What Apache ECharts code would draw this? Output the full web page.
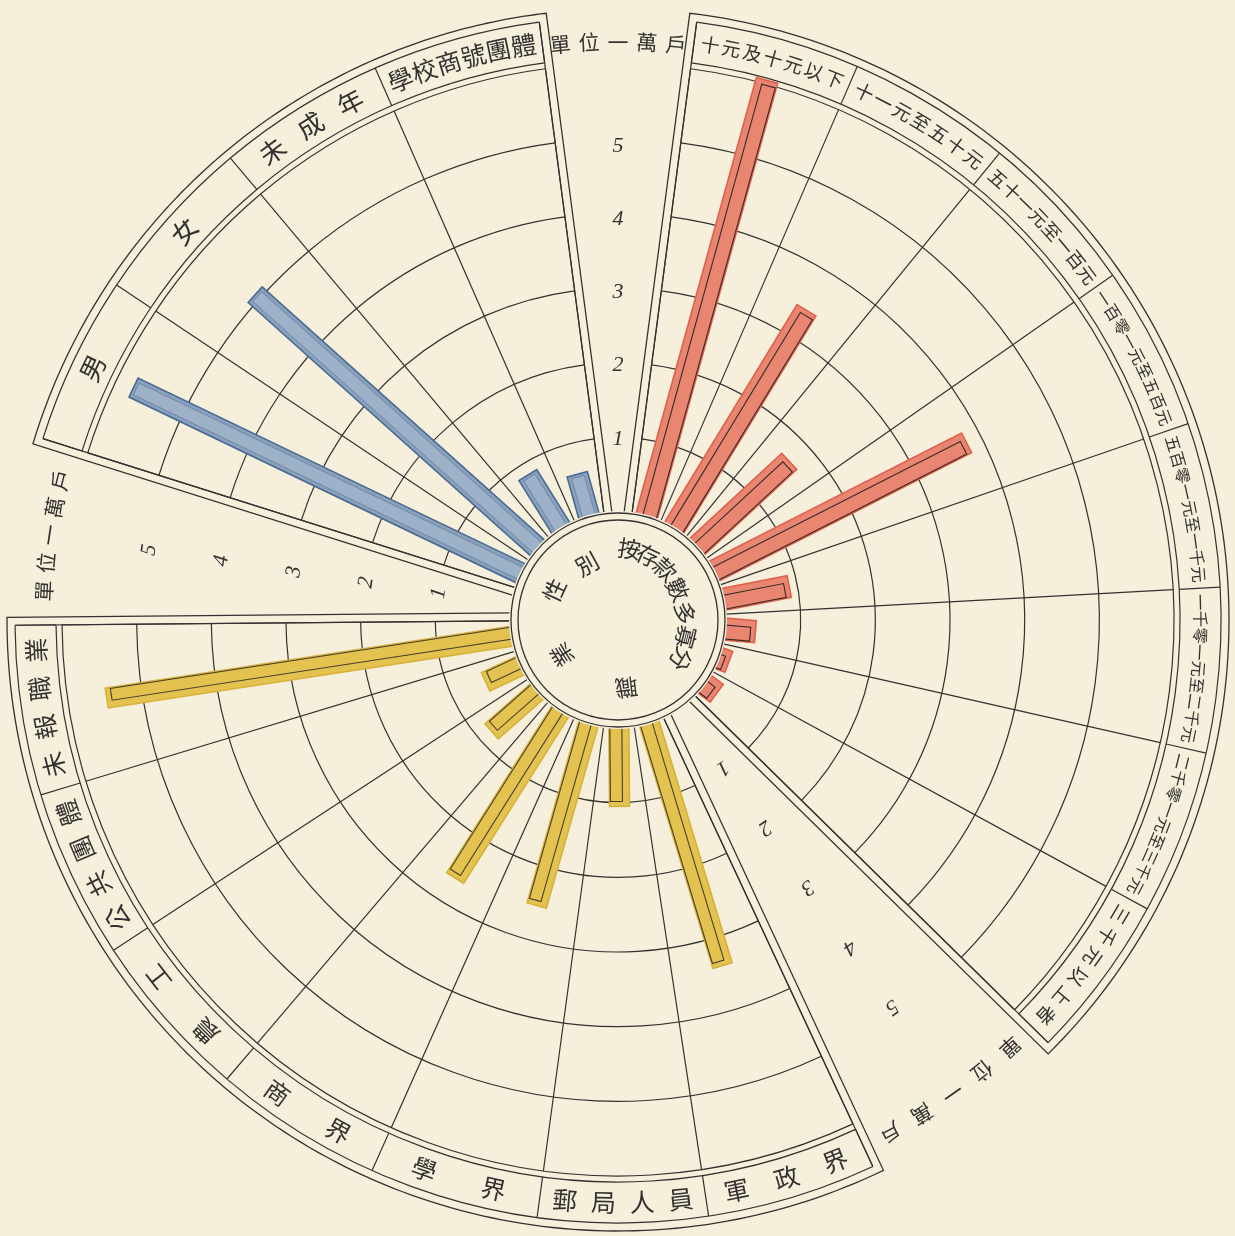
<!DOCTYPE html>
<html>
<head>
<meta charset="utf-8">
<script src="https://cdn.jsdelivr.net/npm/echarts@6/dist/echarts.min.js"></script>
<style>
html,body{margin:0;padding:0;background:#f5efdc;}
#chart{width:1235px;height:1236px;}
</style>
</head>
<body>
<div id="chart"></div>
<script>
// ---------------- DATA (unit: 10,000 households) ----------------
const unitLabel = '單位一萬戶';
const scaleTicks = [1, 2, 3, 4, 5];
const centerTitle = ['按', '存', '款', '數', '多', '寡', '分', '職', '業', '性', '別'];

// blue sector: depositor type (clockwise order)
const blueCategories = ['男', '女', '未成年', '學校商號團體'];
const blueValues = [5.75, 5.08, 0.84, 0.58];

// red sector: size of deposit (clockwise order)
const redCategories = ['十元及十元以下', '十一元至五十元', '五十一元至一百元', '一百零一元至五百元',
  '五百零一元至一千元', '一千零一元至二千元', '二千零一元至三千元', '三千元以上者'];
const redValues = [6.05, 3.41, 1.68, 3.79, 0.89, 0.40, 0.14, 0.20];

// yellow sector: occupation (clockwise order)
const yellowCategories = ['軍政界', '郵局人員', '學界', '商界', '農工', '公共團體', '未報職業'];
const yellowValues = [3.39, 1.05, 2.53, 2.64, 0.81, 0.51, 5.48];

// ---------------- LAYOUT / STYLE ----------------
const PAPER = '#f5efdc';
const INK = '#343230';
const FONT = '"Noto Sans CJK TC", "Noto Sans CJK SC", sans-serif';
const C = [618, 620];
const R0 = 108, R1 = 556;
const BAND = [562, 603];
const FRAME_R = 611, FRAME_GAP = 8;
const DISC = [100, 107];

const sectors = [
  { cats: blueCategories, vals: blueValues, start: 162.5, end: 97.5, font: 26, maxSp: 46,
    bar: { fill: '#88a1bc', stroke: '#4b6b92', width: 21, outline: null } },
  { cats: redCategories, vals: redValues, start: 82.5, end: -44.5, font: 19, maxSp: 30,
    bar: { fill: '#e98672', stroke: '#e0604c', width: 22, outline: '#3a2a26' } },
  { cats: yellowCategories, vals: yellowValues, start: 295, end: 180.5, font: 25, maxSp: 72,
    bar: { fill: '#e3c24f', stroke: '#d7b13a', width: 20, outline: '#4a4030' } }
];
const gaps = [
  { angle: 90, unitR: 6.3, sp: 29 },
  { angle: 171.5, unitR: 6.25, sp: 28 },
  { angle: -54.75, unitR: 6.32, sp: 37 }
];
// labels whose centre lies in this angular range are written upright (flipped)
const FLIP_RANGE = [225, 315];

function barRenderer(st) {
  return function (params, api) {
    const v = api.value(0), idx = api.value(1);
    const p0 = api.coord([0, idx]);
    const p1 = api.coord([v, idx]);
    let ux = p1[0] - p0[0], uy = p1[1] - p0[1];
    const L = Math.hypot(ux, uy) || 1; ux /= L; uy /= L;
    const nx = -uy, ny = ux;
    const rect = (hw, sn, s0, s1) => {
      const a = [p0[0] - ux * s0, p0[1] - uy * s0];
      const b = [p1[0] + ux * s1, p1[1] + uy * s1];
      return [
        [a[0] + nx * (hw + sn), a[1] + ny * (hw + sn)],
        [b[0] + nx * (hw + sn), b[1] + ny * (hw + sn)],
        [b[0] - nx * (hw - sn), b[1] - ny * (hw - sn)],
        [a[0] - nx * (hw - sn), a[1] - ny * (hw - sn)]
      ];
    };
    const hw = st.width / 2;
    const children = [{
      type: 'polygon', shape: { points: rect(hw, 0, 14, 0) },
      style: { fill: st.fill, stroke: st.stroke, lineWidth: 1.6 }
    }];
    if (st.outline) {
      children.push({
        type: 'polygon', shape: { points: rect(hw - 4, 3, 14, -5) },
        style: { fill: 'none', stroke: st.outline, lineWidth: 1.1 }
      });
    } else {
      children.push({
        type: 'polygon', shape: { points: rect(hw - 4, 0, 14, -3) },
        style: { fill: 'rgba(255,255,255,0.18)', stroke: 'rgba(60,85,120,0.5)', lineWidth: 0.8 }
      });
    }
    return { type: 'group', children };
  };
}

function arcText(cx, cy, r, th, text, sp, fs, flip) {
  const chars = Array.from(text), n = chars.length;
  return chars.map((ch, j) => {
    const k = flip ? (j - (n - 1) / 2) : ((n - 1) / 2 - j);
    const a = th + k * sp / r;
    return {
      type: 'text', x: cx + r * Math.cos(a), y: cy - r * Math.sin(a),
      rotation: flip ? a + Math.PI / 2 : a - Math.PI / 2,
      style: { text: ch, fontSize: fs, fontFamily: FONT, fill: INK, align: 'center', verticalAlign: 'middle' }
    };
  });
}

function labelRenderer(s) {
  return function (params, api) {
    const idx = api.value(1);
    const text = s.cats[params.dataIndex];
    const p = api.coord([0.5, idx]);
    const cs = params.coordSys;
    const dx = p[0] - cs.cx, dy = cs.cy - p[1];
    const r = Math.hypot(dx, dy), th = Math.atan2(dy, dx);
    let deg = th * 180 / Math.PI; if (deg < 0) deg += 360;
    const flip = deg > FLIP_RANGE[0] && deg < FLIP_RANGE[1];
    const cellAng = Math.abs(s.start - s.end) / s.cats.length * Math.PI / 180;
    const n = Array.from(text).length;
    const avail = r * cellAng * 0.93;
    const sp = Math.min(s.maxSp, avail / n);
    const fs = Math.min(s.font, sp * 0.98);
    return { type: 'group', children: arcText(cs.cx, cs.cy, r, th, text, sp, fs, flip) };
  };
}

function tickRenderer(params, api) {
  const t = api.value(0);
  const p = api.coord([t * 0.98, 0]);
  const cs = params.coordSys;
  const th = Math.atan2(cs.cy - p[1], p[0] - cs.cx);
  return {
    type: 'text', x: p[0], y: p[1], rotation: th - Math.PI / 2,
    style: { text: String(t), fontSize: 22, fontStyle: 'italic', fontFamily: '"Liberation Serif", serif',
      fill: INK, align: 'center', verticalAlign: 'middle' }
  };
}

function unitRenderer(sp) {
  return function (params, api) {
    const p = api.coord([api.value(0), 0]);
    const cs = params.coordSys;
    const dx = p[0] - cs.cx, dy = cs.cy - p[1];
    const r = Math.hypot(dx, dy), th = Math.atan2(dy, dx);
    return { type: 'group', children: arcText(cs.cx, cs.cy, r, th, unitLabel, sp, 21, false) };
  };
}

const polar = [], angleAxis = [], radiusAxis = [], series = [];
const line = { color: INK, width: 1.2 };

sectors.forEach((s) => {
  let pi = polar.length;
  polar.push({ center: C, radius: [R0, R1] });
  angleAxis.push({ polarIndex: pi, type: 'category', data: s.cats, startAngle: s.start, endAngle: s.end,
    clockwise: true, boundaryGap: true, axisLine: { show: false }, axisTick: { show: false },
    axisLabel: { show: false }, splitLine: { show: true, lineStyle: line } });
  radiusAxis.push({ polarIndex: pi, type: 'value', min: 0, max: 6, interval: 1,
    axisLine: { show: false }, axisTick: { show: false }, axisLabel: { show: false },
    splitLine: { show: true, lineStyle: line } });
  series.push({ type: 'custom', coordinateSystem: 'polar', polarIndex: pi, z: 5,
    encode: { radius: 0, angle: 1 },
    data: s.vals.map((v, i) => [v, i]), renderItem: barRenderer(s.bar) });
  pi = polar.length;
  polar.push({ center: C, radius: BAND });
  angleAxis.push({ polarIndex: pi, type: 'category', data: s.cats, startAngle: s.start, endAngle: s.end,
    clockwise: true, boundaryGap: true, axisLine: { show: false }, axisTick: { show: false },
    axisLabel: { show: false }, splitLine: { show: true, lineStyle: line } });
  radiusAxis.push({ polarIndex: pi, type: 'value', min: 0, max: 1, interval: 1,
    axisLine: { show: false }, axisTick: { show: false }, axisLabel: { show: false },
    splitLine: { show: true, lineStyle: line } });
  series.push({ type: 'custom', coordinateSystem: 'polar', polarIndex: pi, z: 6,
    encode: { radius: 0, angle: 1 },
    data: s.cats.map((c, i) => [0.5, i]), renderItem: labelRenderer(s) });
});

gaps.forEach((g) => {
  const pi = polar.length;
  polar.push({ center: C, radius: [R0, R1] });
  angleAxis.push({ polarIndex: pi, type: 'value', min: 0, max: 360, startAngle: g.angle, show: false });
  radiusAxis.push({ polarIndex: pi, type: 'value', min: 0, max: 6, show: false });
  series.push({ type: 'custom', coordinateSystem: 'polar', polarIndex: pi, z: 6,
    encode: { radius: 0, angle: 1 },
    data: scaleTicks.map(t => [t, 0]), renderItem: tickRenderer });
  series.push({ type: 'custom', coordinateSystem: 'polar', polarIndex: pi, z: 6,
    encode: { radius: 0, angle: 1 },
    data: [[g.unitR, 0]], renderItem: unitRenderer(g.sp) });
});

// ---------- decorative frames ----------
function toScreen(x, y) { return [C[0] + x, C[1] - y]; }
function framePoints(s) {
  const a1 = s.start * Math.PI / 180, a2 = s.end * Math.PI / 180;
  const o = FRAME_GAP, R = FRAME_R, rIn = DISC[1];
  const tIn = Math.sqrt(rIn * rIn - o * o), tOut = Math.sqrt(R * R - o * o);
  const e1 = t => toScreen(t * Math.cos(a1) - o * Math.sin(a1), t * Math.sin(a1) + o * Math.cos(a1));
  const e2 = t => toScreen(t * Math.cos(a2) + o * Math.sin(a2), t * Math.sin(a2) - o * Math.cos(a2));
  const pts = [e1(tIn), e1(tOut)];
  const b1 = a1 + Math.asin(o / R), b2 = a2 - Math.asin(o / R);
  const N = 120;
  for (let i = 0; i <= N; i++) {
    const a = b1 + (b2 - b1) * i / N;
    pts.push(toScreen(R * Math.cos(a), R * Math.sin(a)));
  }
  pts.push(e2(tOut), e2(tIn));
  return pts;
}
const graphic = [];
sectors.forEach((s) => {
  graphic.push({ type: 'polyline', z: 3, shape: { points: framePoints(s) },
    style: { stroke: INK, lineWidth: 1.3, fill: null } });
  [s.start, s.end].forEach(deg => {
    const a = deg * Math.PI / 180;
    const p = toScreen(DISC[1] * Math.cos(a), DISC[1] * Math.sin(a));
    const q = toScreen(BAND[1] * Math.cos(a), BAND[1] * Math.sin(a));
    graphic.push({ type: 'line', z: 3, shape: { x1: p[0], y1: p[1], x2: q[0], y2: q[1] },
      style: { stroke: INK, lineWidth: 1.2 } });
  });
});
graphic.push({ type: 'circle', z: 100, shape: { cx: C[0], cy: C[1], r: R0 + 1 },
  style: { fill: PAPER, stroke: null } });
DISC.forEach(r => graphic.push({ type: 'circle', z: 101, shape: { cx: C[0], cy: C[1], r },
  style: { fill: null, stroke: INK, lineWidth: 1.3 } }));
const titleAngles = [81, 65, 47, 27, 6, -14, -32, -83, -148, 155, 119];
const titleR = [72, 71, 69, 67, 67, 70, 74, 68, 66, 70, 64];
centerTitle.forEach((ch, i) => {
  const a = titleAngles[i] * Math.PI / 180;
  const p = toScreen(titleR[i] * Math.cos(a), titleR[i] * Math.sin(a));
  graphic.push({ type: 'text', z: 102, x: p[0], y: p[1], rotation: a - Math.PI / 2,
    style: { text: ch, fontSize: 23, fontFamily: FONT, fill: INK, align: 'center', verticalAlign: 'middle' } });
});

const chart = echarts.init(document.getElementById('chart'), null, { renderer: 'canvas' });
chart.setOption({
  backgroundColor: PAPER,
  animation: false,
  polar, angleAxis, radiusAxis, series, graphic
});
</script>
</body>
</html>
